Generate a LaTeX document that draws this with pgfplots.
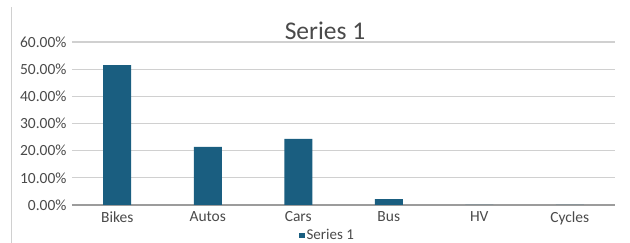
\documentclass[border=0pt]{standalone}
\usepackage{pgfplots}
\pgfplotsset{compat=1.18}
\usepackage{fontspec}
\setmainfont{Carlito}
\definecolor{barblue}{HTML}{1A5E80}
\definecolor{ticktext}{HTML}{4A4A4A}
\definecolor{gridc}{HTML}{D0D0D0}
\begin{document}
\begin{tikzpicture}[x=1pt,y=1pt]
\path[use as bounding box] (0,0) rectangle (630,243);
\draw[gridc, line width=1pt] (11,0) -- (11,236);
\node[font=\fontsize{25.5}{28}\selectfont, text=ticktext] at (325,212) {Series 1};
\begin{axis}[
  at={(72pt,38pt)}, anchor=south west,
  width=543pt, height=163pt, scale only axis,
  xmin=-0.5, xmax=5.5, ymin=0, ymax=60,
  ytick={0,10,...,60},
  xtick={0,1,2,3,4,5},
  xticklabels={Bikes,Autos,Cars,Bus,HV,Cycles},
  /pgf/number format/assume math mode=true,
  yticklabel={\pgfmathprintnumber[fixed,fixed zerofill,precision=2]{\tick}\%},
  tick label style={font=\fontsize{15.5}{17}\selectfont, text=ticktext},
  yticklabel style={xshift=-2pt},
  xticklabel style={yshift=-3pt},
  major tick length=0pt,
  ymajorgrids, grid style={gridc, line width=1.3pt},
  axis x line*=bottom,
  axis y line*=left,
  x axis line style={draw=gridc!75!black, line width=1.3pt},
  y axis line style={draw=none},
  ybar, bar width=28pt,
  legend style={at={(0.47,-0.185)}, anchor=center, draw=none, fill=none,
    font=\fontsize{15}{16}\selectfont, text=ticktext, inner sep=0pt},
  legend image code/.code={\fill[barblue] (0pt,-2.5pt) rectangle (6pt,2.5pt);},
  clip=false,
]
\addplot[fill=barblue, draw=none] coordinates {(0,51.5) (1,21.4) (2,24.3) (3,2.2) (4,0) (5,0)};
\addlegendentry{Series 1}
\end{axis}
\end{tikzpicture}
\end{document}
